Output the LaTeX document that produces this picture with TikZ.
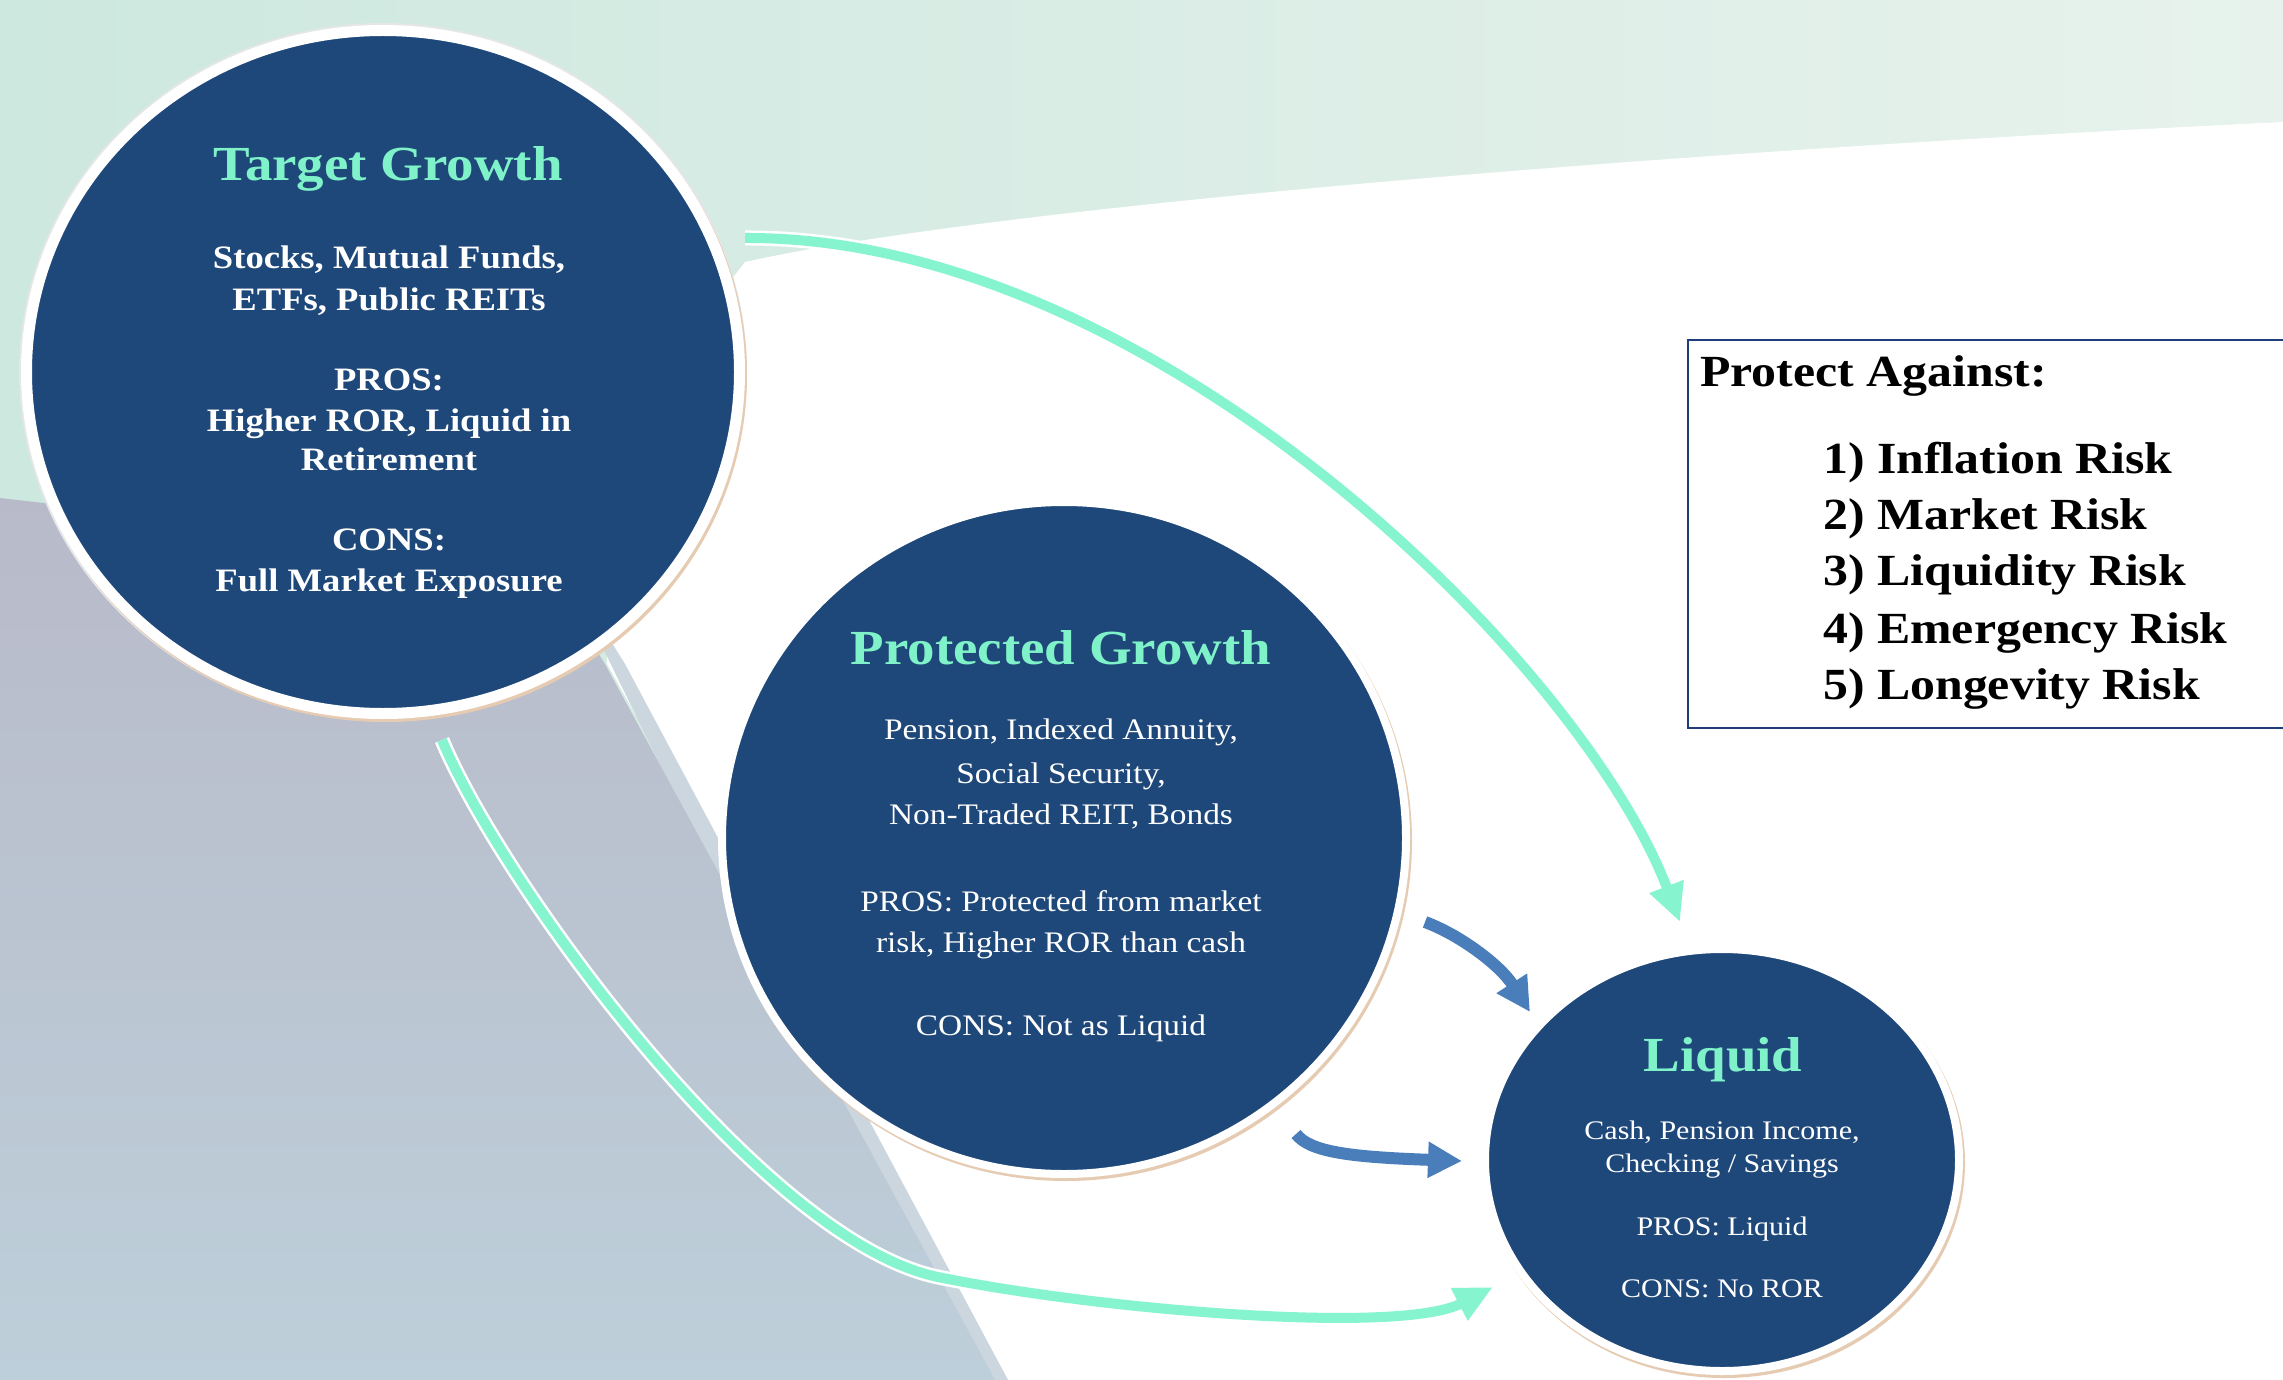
\documentclass[tikz,border=0pt]{standalone}
\usepackage{fontspec}
\setmainfont{Liberation Serif}[FakeStretch=1.12]
\usetikzlibrary{shapes.geometric,arrows.meta}
\definecolor{navy}{HTML}{1F487A}
\definecolor{mintT}{HTML}{80F2C9}
\definecolor{mintA}{HTML}{86F5CF}
\definecolor{blueA}{HTML}{4A7EBB}
\definecolor{bgL}{HTML}{CDE8DF}
\definecolor{bgR}{HTML}{E7F2EC}
\definecolor{grayT}{HTML}{B8BAC9}
\definecolor{grayB}{HTML}{BDCFDA}
\definecolor{grayS}{HTML}{CCD6DF}
\definecolor{tanS}{HTML}{E6CBB3}
\definecolor{haloG}{HTML}{E4E6E8}
\definecolor{boxB}{HTML}{1F3D7A}
\begin{document}
\begin{tikzpicture}[x=1pt,y=-1pt,
  bubble/.style={ellipse, fill=navy, draw=white, inner sep=0pt},
  ttl/.style={inner sep=0pt, anchor=base, text=mintT, font=\fontsize{49}{49}\selectfont\bfseries},
  tgb/.style={inner sep=0pt, anchor=base, text=white, font=\fontsize{32.7}{33}\selectfont\bfseries},
  pgb/.style={inner sep=0pt, anchor=base, text=white, font=\fontsize{29.8}{30}\selectfont},
  lqb/.style={inner sep=0pt, anchor=base, text=white, font=\fontsize{26.8}{27}\selectfont},
  boxt/.style={inner sep=0pt, anchor=base west, text=black, font=\fontsize{44.5}{44}\selectfont\bfseries},
  mintarrow/.style={draw=mintA, line width=10pt, -{Triangle[length=38pt,width=34pt]}},
  bluearrow/.style={draw=blueA, line width=12pt, -{Triangle[length=34pt,width=34pt]}},
  halo/.style={draw=white, line width=15pt, shorten >=20pt}]
\clip (0,0) rectangle (2283,1380);
% background
\shade[left color=bgL, right color=bgR] (0,0) rectangle (2283,1380);
\fill[white] (2283,122) .. controls (1700,150) and (1000,205) .. (745,262) -- (600,450) -- (607,664) -- (1008,1380) -- (2283,1380) -- cycle;
\fill[grayS] (560,560) -- (625,664) -- (1008,1380) -- (960,1380) -- cycle;
\shade[top color=grayT, bottom color=grayB] (0,498) -- (540,560) -- (605,664) -- (995,1380) -- (0,1380) -- cycle;
% soft halos and shadows
\fill[haloG] (383,372) ellipse [x radius=364, y radius=349];
\fill[tanS] (385,375) ellipse [x radius=362, y radius=347];
\fill[tanS] (1066,841) ellipse [x radius=346, y radius=340];
\fill[tanS] (1724,1163) ellipse [x radius=241, y radius=215];
% bubbles
\node[bubble, line width=11pt, minimum width=713pt, minimum height=683pt] (tg) at (383,372) {};
\node[bubble, line width=8pt, minimum width=684pt, minimum height=672pt] (pg) at (1064,838) {};
\node[bubble, line width=8pt, minimum width=474pt, minimum height=422pt] (lq) at (1722,1160) {};
% arrow end points
\coordinate (m1s) at (745,238);
\coordinate (m1e) at (1680,922);
\coordinate (m2s) at (442,740);
\coordinate (m2m) at (938,1277);
\coordinate (m2e) at (1493,1287);
\coordinate (b1s) at (1425,922);
\coordinate (b1e) at (1530,1012);
\coordinate (b2s) at (1296,1134);
\coordinate (b2e) at (1462,1161);
% arrows
\draw[halo] (m1s) .. controls (1150,236) and (1580,660) .. (m1e);
\draw[mintarrow] (m1s) .. controls (1150,236) and (1580,660) .. (m1e);
\draw[halo] (m2s) .. controls (500,880) and (760,1240) .. (m2m) .. controls (1100,1310) and (1400,1335) .. (m2e);
\draw[mintarrow] (m2s) .. controls (500,880) and (760,1240) .. (m2m) .. controls (1100,1310) and (1400,1335) .. (m2e);
\draw[bluearrow] (b1s) .. controls (1460,935) and (1500,965) .. (b1e);
\draw[bluearrow] (b2s) .. controls (1310,1152) and (1350,1157) .. (b2e);
% Target Growth text
\node[ttl] (tgt) at (388,181) {Target Growth};
\foreach \yy/\txt [count=\i] in {269/{Stocks, Mutual Funds,}, 310/{ETFs, Public REITs}, 390/{PROS:}, 431/{Higher ROR, Liquid in}, 470/{Retirement}, 550/{CONS:}, 591/{Full Market Exposure}}
  \node[tgb] (tg-\i) at (389,\yy) {\txt};
% Protected Growth text
\node[ttl] (pgt) at (1061,664) {Protected Growth};
\foreach \yy/\txt [count=\i] in {739/{Pension, Indexed Annuity,}, 783/{Social Security,}, 824/{Non-Traded REIT, Bonds}, 911/{PROS: Protected from market}, 952/{risk, Higher ROR than cash}, 1035/{CONS: Not as Liquid}}
  \node[pgb] (pg-\i) at (1061,\yy) {\txt};
% Liquid text
\node[ttl] (lqt) at (1723,1071) {Liquid};
\foreach \yy/\txt [count=\i] in {1139/{Cash, Pension Income,}, 1172/{Checking / Savings}, 1235/{PROS: Liquid}, 1297/{CONS: No ROR}}
  \node[lqb] (lq-\i) at (1722,\yy) {\txt};
% Protect Against box
\node[draw=boxB, line width=2pt, fill=white, inner sep=0pt, minimum width=700pt, minimum height=388pt, anchor=north west] (box) at (1687,339) {};
\node[boxt] (boxh) at (1700,386) {Protect Against:};
\foreach \yy/\txt [count=\i] in {473/{1) Inflation Risk}, 529/{2) Market Risk}, 585/{3) Liquidity Risk}, 643/{4) Emergency Risk}, 699/{5) Longevity Risk}}
  \node[boxt] (risk-\i) at (1823,\yy) {\txt};
\end{tikzpicture}
\end{document}
